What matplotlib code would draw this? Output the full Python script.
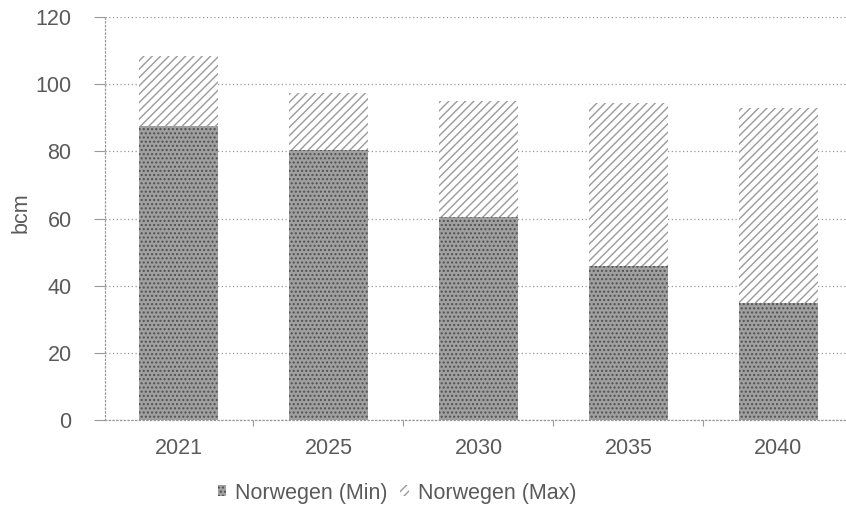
import numpy as np
import matplotlib.pyplot as plt

plt.rcParams['font.family'] = ['Liberation Sans', 'DejaVu Sans']
plt.rcParams['hatch.linewidth'] = 1.0

# Norwegische Gasexporte, bcm
jahre = ['2021', '2025', '2030', '2035', '2040']
norwegen_min = [87.5, 80.4, 60.5, 46.0, 35.0]
norwegen_gesamt = [108.5, 97.5, 95.0, 94.5, 93.0]
norwegen_max = [g - m for g, m in zip(norwegen_gesamt, norwegen_min)]

x = np.arange(len(jahre))
textfarbe = '#5a5a5a'
fs = 15.5

fig = plt.figure(figsize=(8.46, 5.13), dpi=100)
ax = fig.add_axes([0.124, 0.181, 0.876, 0.786])

ax.bar(x, norwegen_min, width=0.53, color='#a0a0a0', edgecolor='#505050',
       hatch='....', linewidth=0, label='Norwegen (Min)', zorder=2)
ax.bar(x, norwegen_max, width=0.53, bottom=norwegen_min, color='white',
       edgecolor='#9a9a9a', hatch='////', linewidth=0,
       label='Norwegen (Max)', zorder=2)

ax.set_ylim(0, 120)
ax.set_yticks(range(0, 121, 20))
ax.set_xlim(-0.49, 4.45)
ax.set_xticks(x)
ax.set_xticklabels(jahre)
ax.set_xticks(np.arange(0.5, 4.0, 1.0), minor=True)
ax.set_ylabel('bcm', color=textfarbe, fontsize=fs)
ax.yaxis.set_label_coords(-0.099, 0.515)

ax.grid(axis='y', linestyle=(0, (1, 2)), color='#999999', linewidth=0.9, zorder=0)
for s in ['top', 'right']:
    ax.spines[s].set_visible(False)
for s in ['left', 'bottom']:
    ax.spines[s].set_linestyle((0, (1, 2)))
    ax.spines[s].set_color('#999999')
    ax.spines[s].set_linewidth(0.9)

ax.tick_params(axis='y', colors='#999999', labelcolor=textfarbe,
               labelsize=fs, length=8, width=0.8, pad=16)
ax.tick_params(axis='x', which='major', length=0, labelcolor=textfarbe,
               labelsize=fs, pad=13)
ax.tick_params(axis='x', which='minor', length=4, color='#999999', width=0.8)

leg = ax.legend(loc='center', bbox_to_anchor=(0.394, -0.181), ncol=2,
                frameon=False, fontsize=fs, handlelength=0.4, handleheight=0.4,
                handletextpad=0.4, columnspacing=0.6)
for t in leg.get_texts():
    t.set_color(textfarbe)

fig.savefig('out.png', dpi=100)
